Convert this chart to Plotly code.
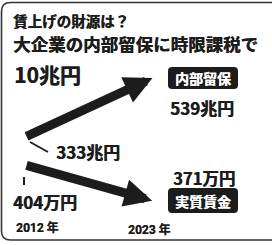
import plotly.graph_objects as go

# ---- data ----
years = [2012, 2023]
year_labels = ["2012年", "2023年"]
reserves = [333, 539]          # 内部留保（兆円）
wages = [404, 371]             # 実質賃金（万円）
title_text = "賃上げの財源は？"
subtitle_text = "大企業の内部留保に時限課税で"
headline_text = "10兆円"
reserve_label = "内部留保"
wage_label = "実質賃金"

W, H = 272, 245
INK = "#1c1c1c"
FONT = "Noto Sans CJK JP"
HEAVY = f"0.45px 0 0 {INK}"

# axis ranges (styling: place 2012 at px 25, 2023 at px 157)
ppx = 132 / 11
x0 = 2012 - 25 / ppx
x1 = x0 + W / ppx
ur = (reserves[1] - reserves[0]) / (137 - 76)
y_top = reserves[1] + 76 * ur
y_bot = y_top - H * ur
uw = (wages[0] - wages[1]) / (202 - 165)
y2_top = wages[0] + 165 * uw
y2_bot = y2_top - H * uw

fig = go.Figure()
fig.add_trace(go.Scatter(x=years, y=reserves, mode="lines", line=dict(width=0),
                         hoverinfo="skip", showlegend=False))
fig.add_trace(go.Scatter(x=years, y=wages, mode="lines", line=dict(width=0),
                         hoverinfo="skip", showlegend=False, yaxis="y2"))


def rrect(a, b, c, d, r):
    return (f"M{a+r},{-b} L{c-r},{-b} Q{c},{-b} {c},{-(b+r)} L{c},{-(d-r)} "
            f"Q{c},{-d} {c-r},{-d} L{a+r},{-d} Q{a},{-d} {a},{-(d-r)} "
            f"L{a},{-(b+r)} Q{a},{-b} {a+r},{-b} Z")


def pix_shape(path, line=None, fill=None):
    return dict(type="path", xref="paper", yref="paper", xsizemode="pixel",
                ysizemode="pixel", xanchor=0, yanchor=1, path=path,
                line=line or dict(width=0), fillcolor=fill, layer="below")


shapes = [
    pix_shape(rrect(1.5, 2.5, 285, 240, 9), line=dict(color="#333", width=1.6)),
    pix_shape(rrect(168, 67, 238, 89, 4), fill=INK),
    pix_shape(rrect(168, 188, 238, 213, 4), fill=INK),
    # leader lines
    dict(type="line", xref="x", yref="y", xsizemode="pixel", ysizemode="pixel",
         xanchor=years[0], yanchor=reserves[0], x0=5, x1=23, y0=-5, y1=-15,
         line=dict(color=INK, width=1.8)),
    dict(type="line", xref="x", yref="y2", xsizemode="pixel", ysizemode="pixel",
         xanchor=years[0], yanchor=wages[0], x0=-1, x1=-1, y0=-12, y1=-20,
         line=dict(color=INK, width=2)),
]

ann = []
# arrows
ann.append(dict(x=years[1], y=reserves[1], ax=years[0], ay=reserves[0],
                xref="x", yref="y", axref="x", ayref="y", text="", showarrow=True,
                arrowhead=2, arrowsize=0.62, arrowwidth=9, arrowcolor=INK, standoff=5))
ann.append(dict(x=years[1], y=wages[1], ax=years[0], ay=wages[0],
                xref="x", yref="y2", axref="x", ayref="y2", text="", showarrow=True,
                arrowhead=2, arrowsize=0.62, arrowwidth=9, arrowcolor=INK, standoff=5))


def ptext(text, x, y, size, color=INK, anchor="left", shadow=HEAVY):
    return dict(text=text, xref="paper", yref="paper", x=x / W, y=1 - y / H,
                xanchor=anchor, yanchor="middle", showarrow=False,
                font=dict(family=FONT, size=size, color=color, weight="bold",
                          shadow=shadow))


def dtext(text, xv, yv, yref, dx, dy, size, color=INK, anchor="left"):
    return dict(text=text, xref="x", yref=yref, x=xv, y=yv, xshift=dx, yshift=dy,
                xanchor=anchor, yanchor="middle", showarrow=False,
                font=dict(family=FONT, size=size, color=color, weight="bold",
                          shadow=HEAVY))


ann.append(ptext(title_text, 11, 20.5, 14.5))
ann.append(ptext(subtitle_text, 11, 43, 17.5))
ann.append(ptext(headline_text, 12, 74, 21))
ann.append(ptext(reserve_label, 203, 78, 14, color="white", anchor="center",
                 shadow="0.3px 0 0 white"))
ann.append(ptext(wage_label, 203, 200.5, 14, color="white", anchor="center",
                 shadow="0.3px 0 0 white"))

ann.append(dtext(f"{reserves[1]}兆円", years[1], reserves[1], "y", 11, -31, 17))
ann.append(dtext(f"{reserves[0]}兆円", years[0], reserves[0], "y", 29, -14, 17))
ann.append(dtext(f"{wages[0]}万円", years[0], wages[0], "y2", -14, -36.5, 17))
ann.append(dtext(f"{wages[1]}万円", years[1], wages[1], "y2", 14, 24, 16.5))

for yr, lab, dx, py in zip(years, year_labels, [12.5, -7.5], [227.5, 229.5]):
    ann.append(dict(text=lab.replace("年", " 年"), xref="x", yref="paper", x=yr, xshift=dx,
                    y=1 - py / H, xanchor="center", yanchor="middle", showarrow=False,
                    font=dict(family="Roboto, Noto Sans CJK JP", size=12, color=INK,
                              weight="bold", shadow="0.3px 0 0 #1c1c1c")))

fig.update_layout(
    width=W, height=H, margin=dict(l=0, r=0, t=0, b=0),
    paper_bgcolor="white", plot_bgcolor="white",
    xaxis=dict(range=[x0, x1], visible=False, fixedrange=True),
    yaxis=dict(range=[y_bot, y_top], visible=False, fixedrange=True),
    yaxis2=dict(range=[y2_bot, y2_top], visible=False, overlaying="y", fixedrange=True),
    shapes=shapes, annotations=ann, showlegend=False,
)

fig.write_html("out.html", config=dict(displayModeBar=False, staticPlot=True),
               post_script="document.body.style.margin='0';")
